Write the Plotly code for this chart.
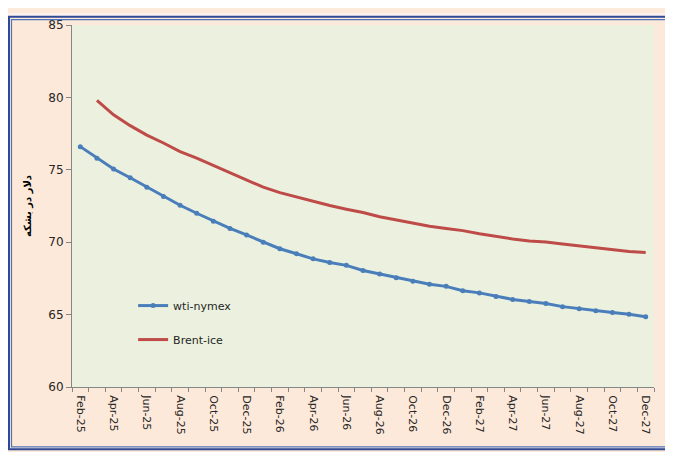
import plotly.graph_objects as go

months = ["Feb-25", "Mar-25", "Apr-25", "May-25", "Jun-25", "Jul-25", "Aug-25", "Sep-25",
          "Oct-25", "Nov-25", "Dec-25", "Jan-26", "Feb-26", "Mar-26", "Apr-26", "May-26",
          "Jun-26", "Jul-26", "Aug-26", "Sep-26", "Oct-26", "Nov-26", "Dec-26", "Jan-27",
          "Feb-27", "Mar-27", "Apr-27", "May-27", "Jun-27", "Jul-27", "Aug-27", "Sep-27",
          "Oct-27", "Nov-27", "Dec-27"]

wti_nymex = [76.6, 75.8, 75.05, 74.45, 73.8, 73.15, 72.55, 72.0, 71.45, 70.95, 70.5, 70.0,
             69.55, 69.2, 68.85, 68.6, 68.4, 68.05, 67.8, 67.55, 67.3, 67.1, 66.95, 66.65,
             66.5, 66.25, 66.05, 65.9, 65.77, 65.55, 65.4, 65.27, 65.15, 65.02, 64.85]

brent_ice = [None, 79.8, 78.8, 78.05, 77.4, 76.85, 76.25, 75.8, 75.3, 74.75, 74.3, 73.8,
             73.42, 73.12, 72.8, 72.53, 72.28, 72.05, 71.76, 71.53, 71.31, 71.1, 70.95, 70.8,
             70.58, 70.39, 70.22, 70.08, 70.01, 69.88, 69.74, 69.61, 69.47, 69.35, 69.29]

y_ticks = [60, 65, 70, 75, 80, 85]

# page body has an 8px margin, so the figure is drawn from (8, 8)
W, H = 665, 444
ML, MR, MT, MB = 64, 19, 10, 65

idx = list(range(len(months)))
label_idx = idx[::2]
label_txt = [months[i] for i in label_idx]

fig = go.Figure()
fig.add_trace(go.Scatter(
    x=idx, y=wti_nymex, name="wti-nymex", mode="lines+markers",
    line=dict(color="#4A7EBB", width=3),
    marker=dict(color="#4A7EBB", size=5, symbol="circle"),
    legendgroup="a",
))
fig.add_trace(go.Scatter(
    x=idx, y=brent_ice, name="Brent-ice", mode="lines",
    line=dict(color="#BE4B48", width=3),
    legendgroup="b",
))

pw = W - ML - MR
ph = H - MT - MB
def px_x(p):
    return (p - ML) / pw
def px_y(p):
    return (H - MB - p) / ph

shapes = [
    dict(type="rect", xref="paper", yref="paper", x0=px_x(-2), x1=px_x(W + 2), y0=px_y(-2), y1=px_y(0.8),
         fillcolor="#FDF1EE", line=dict(width=0), layer="above"),
    dict(type="rect", xref="paper", yref="paper", x0=px_x(1), x1=px_x(W + 1), y0=px_y(1.5), y1=px_y(442.5),
         line=dict(color="#2E4A96", width=2), fillcolor="rgba(0,0,0,0)", layer="above"),
    dict(type="rect", xref="paper", yref="paper", x0=px_x(3.5), x1=px_x(W - 2), y0=px_y(4.5), y1=px_y(440),
         line=dict(color="#4F74BE", width=1.2), fillcolor="rgba(0,0,0,0)", layer="above"),
]

fig.update_layout(
    width=W, height=H,
    margin=dict(l=ML, r=MR, t=MT, b=MB, pad=0),
    paper_bgcolor="#FDE9D9",
    plot_bgcolor="#EBF1DE",
    font=dict(family="DejaVu Sans", color="#262626"),
    showlegend=True,
    legend=dict(
        x=0.105, y=0.265, xanchor="left", yanchor="top",
        bgcolor="rgba(0,0,0,0)", borderwidth=0,
        font=dict(size=11, color="#262626"),
        tracegroupgap=15,
    ),
    shapes=shapes,
    xaxis=dict(
        range=[-0.5, len(months) - 0.5],
        tickmode="array", tickvals=label_idx, ticktext=label_txt,
        tickangle=90, tickfont=dict(size=11, color="#262626"),
        ticks="outside", ticklen=5, tickcolor="rgba(0,0,0,0)",
        minor=dict(tickmode="array", tickvals=[i - 0.5 for i in range(len(months) + 1)],
                   ticks="outside", ticklen=4, tickcolor="#868686", showgrid=False),
        showline=True, linecolor="#868686", linewidth=1,
        showgrid=False, zeroline=False, fixedrange=True,
    ),
    yaxis=dict(
        range=[60, 85],
        tickmode="array", tickvals=y_ticks,
        tickfont=dict(size=12, color="#262626"),
        ticks="outside", ticklen=5, tickcolor="#868686",
        showline=True, linecolor="#868686", linewidth=1,
        showgrid=False, zeroline=False,
        title=dict(text="<b>دلار در بشکه</b>", font=dict(size=10, color="#000000"), standoff=14),
    ),
)

fig.write_html("out.html")
